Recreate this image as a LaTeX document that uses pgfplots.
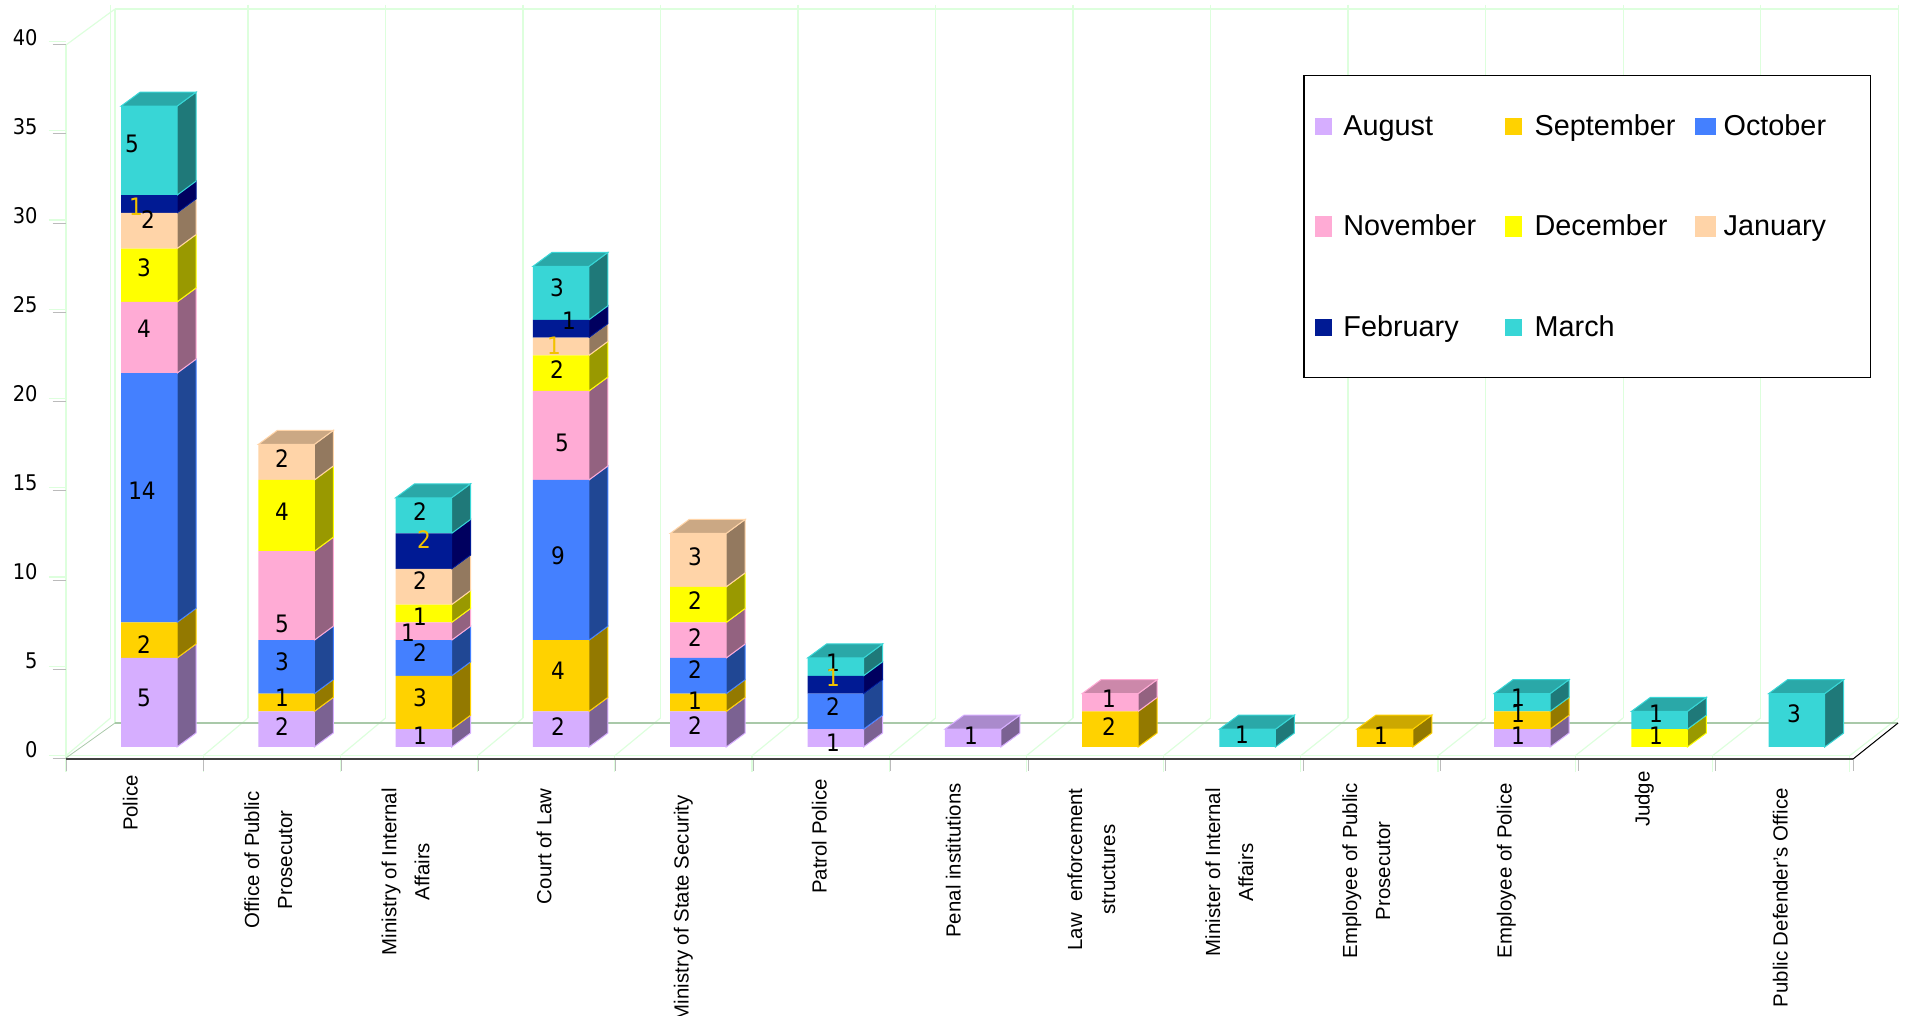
\documentclass[border=0pt]{standalone}
\usepackage{fontspec}
\usepackage{pgfplots}
\usepackage{pgfplotstable}
\pgfplotsset{compat=1.18}
\setmainfont{Liberation Sans}
\newfontfamily\condfont{DejaVu Sans Condensed}
\definecolor{aug}{HTML}{D6AEFF}
\definecolor{sep}{HTML}{FFD200}
\definecolor{oct}{HTML}{4480FF}
\definecolor{nov}{HTML}{FFABD5}
\definecolor{dec}{HTML}{FFFF00}
\definecolor{jan}{HTML}{FFD4A8}
\definecolor{feb}{HTML}{001A94}
\definecolor{mar}{HTML}{38D6D6}
\definecolor{augS}{HTML}{7B6292}
\definecolor{sepS}{HTML}{937900}
\definecolor{octS}{HTML}{204794}
\definecolor{novS}{HTML}{936280}
\definecolor{decS}{HTML}{999900}
\definecolor{janS}{HTML}{93795F}
\definecolor{febS}{HTML}{00005F}
\definecolor{marS}{HTML}{1F7979}
\definecolor{augT}{HTML}{AA8ACC}
\definecolor{sepT}{HTML}{CCA800}
\definecolor{octT}{HTML}{3666CC}
\definecolor{novT}{HTML}{CC88AA}
\definecolor{decT}{HTML}{CCCC00}
\definecolor{janT}{HTML}{CBA884}
\definecolor{febT}{HTML}{001476}
\definecolor{marT}{HTML}{2AA8A8}
\definecolor{gridg}{HTML}{DDFFDD}
\definecolor{floorg}{HTML}{A9C9A9}
\definecolor{tickg}{HTML}{BBBBBB}
\definecolor{goldlab}{HTML}{F2C200}
\pgfplotstableread{
Cat Aug Sep Oct Nov Dec Jan Feb Mar
0 5 2 14 4 3 2 1 5
1 2 1 3 5 4 2 0 0
2 1 3 2 1 1 2 2 2
3 2 4 9 5 2 1 1 3
4 2 1 2 2 2 3 0 0
5 1 0 2 0 0 0 1 1
6 1 0 0 0 0 0 0 0
7 0 2 0 1 0 0 0 0
8 0 0 0 0 0 0 0 1
9 0 1 0 0 0 0 0 0
10 1 1 0 0 0 0 0 1
11 0 0 0 0 1 0 0 1
12 0 0 0 0 0 0 0 3
}\datatab
% x: px -> category index, y: px -> value; 1 px = 0.5 pt
\newcommand\pxline[5]{\draw[#5] (axis cs:{(#1-149)/137.3},{(747-(#2))/17.8}) -- (axis cs:{(#3-149)/137.3},{(747-(#4))/17.8});}
\newcommand\lab[4][black]{\node[inner sep=0pt,font=\condfont\fontsize{12}{12}\selectfont,text=#1] at (axis cs:{(#2-149)/137.3},{(747-#3)/17.8}) {#4};}
\newcommand\tl[2]{\begin{tabular}{@{}c@{}}#2\end{tabular}\hspace*{#1pt}}
\pgfplotsset{swatch/.style 2 args={legend image code/.code={\fill[##1] (0pt,-#2pt) rectangle (#1pt,#2pt);}}}
\pgfplotsset{common/.style={
  scale only axis,width=893.5pt,height=356pt,
  xmin=-0.6045,xmax=12.41,ymin=0,ymax=40,clip=false}}
\begin{document}
\begin{tikzpicture}
\begin{axis}[common,hide axis]
% walls and floor
\pxline{115}{9}{1898}{9}{gridg,line width=.6pt}
\pxline{66}{45}{66}{759}{gridg,line width=.6pt}
\pxline{66}{45}{115}{9}{gridg,line width=.6pt}
\pxline{110.5}{5}{110.5}{718}{gridg,line width=.6pt}
\pxline{115}{9}{115}{723}{gridg,line width=.6pt}
\pgfplotsinvokeforeach{0,...,12}{
  \pxline{248+137.5*#1}{5}{248+137.5*#1}{718}{gridg,line width=.6pt}
}
\pxline{66}{755.7}{1850}{755.7}{gridg,line width=.6pt}
\pgfplotsinvokeforeach{0,...,13}{
  \pxline{66+137.2*#1}{755.7}{110.5+137.5*#1}{718}{gridg,line width=.6pt}
  \pxline{66+137.2*#1}{755.7}{66+137.2*#1}{771.7}{gridg,line width=.6pt}
  \pxline{66+137.46*#1}{759}{66+137.46*#1}{771}{tickg,line width=.4pt}
}
\pgfplotsinvokeforeach{0,5,...,40}{
  \pxline{49}{755.5-17.85*#1}{66}{755.5-17.85*#1}{gridg,line width=.6pt}
  \pxline{52.7}{758.5-17.85*#1}{66}{758.5-17.85*#1}{tickg,line width=.4pt}
}
\pxline{115}{723}{1898}{723}{floorg,line width=.7pt}
\pxline{66}{758}{115}{723}{floorg,line width=.4pt}
\pxline{66}{759}{1853}{759}{black!75,line width=.6pt}
\pxline{1853}{759}{1898}{723}{black,line width=.5pt}
% side and top faces of the bars, from the table
\pgfmathsetmacro\hw{28/137.3}
\pgfmathsetmacro\dxr{19/137.3}
\pgfmathsetmacro\dxl{19/137.3}
\pgfmathsetmacro\dy{14/17.8}
\foreach \r in {0,...,12}{
  \gdef\base{0}
  \foreach \c/\col in {Aug/aug,Sep/sep,Oct/oct,Nov/nov,Dec/dec,Jan/jan,Feb/feb,Mar/mar}{
    \pgfplotstablegetelem{\r}{\c}\of{\datatab}
    \let\v\pgfplotsretval
    \ifdim\v pt>0pt
      \pgfmathsetmacro\xa{\r+\hw}
      \pgfmathsetmacro\xb{\r+\hw+\dxr}
      \pgfmathsetmacro\ya{\base}
      \pgfmathsetmacro\yb{\base+\v}
      \pgfmathsetmacro\yc{\base+\dy}
      \pgfmathsetmacro\yd{\base+\v+\dy}
      \edef\tmp{\noexpand\addplot[fill=\col S,draw=\col,line width=.5pt] coordinates {(\xa,\ya)(\xb,\yc)(\xb,\yd)(\xa,\yb)} --cycle;}\tmp
      \xdef\base{\yb}
      \xdef\lastcol{\col}
    \fi
  }
  \pgfmathsetmacro\xl{\r-\hw}
  \pgfmathsetmacro\xa{\r+\hw}
  \pgfmathsetmacro\xb{\r+\hw+\dxr}
  \pgfmathsetmacro\xc{\r-\hw+\dxl}
  \pgfmathsetmacro\yd{\base+\dy}
  \edef\tmp{\noexpand\addplot[fill=\lastcol T,draw=\lastcol,line width=.5pt] coordinates {(\xl,\base)(\xa,\base)(\xb,\yd)(\xc,\yd)} --cycle;}\tmp
}
\end{axis}
\begin{axis}[common,
  ybar stacked,bar width=28pt,
  axis line style={draw=none},major tick length=0pt,tick style={draw=none},
  ytick={0,5,...,40},
  /pgf/number format/assume math mode=true,
  yticklabel style={font=\condfont\fontsize{10.8}{12}\selectfont,anchor=east,inner sep=0pt,xshift=-14pt,yshift=-1.5pt},
  xtick={-0.1311,0.8740,1.8734,2.8820,3.8821,4.8871,5.8631,6.8682,7.8733,8.8711,9.8762,10.8812,11.8864},
  xticklabels={
    {\tl{2}{Police}},
    {\tl{10}{Office of Public\\Prosecutor}},
    {\tl{8.5}{Ministry of Internal\\Affairs}},
    {\tl{8.5}{Court of Law}},
    {\tl{12}{Ministry of State Security}},
    {\tl{4}{Patrol Police}},
    {\tl{6}{Penal institutions}},
    {\tl{8.5}{Law\ \ enforcement\\structures}},
    {\tl{8.5}{Minister of Internal\\Affairs}},
    {\tl{6}{Employee of Public\\Prosecutor}},
    {\tl{6}{Employee of Police}},
    {\tl{0}{Judge}},
    {\tl{8.5}{Public Defender's Office}}},
  xticklabel style={font=\fontsize{10.2}{16.5}\selectfont,yshift=-12pt,rotate=90,anchor=east,inner sep=0pt},
  legend columns=3,
  legend cell align=left,
  legend style={at={(0.6924,0.9438)},anchor=north west,draw=black,fill=white,line width=.6pt,
    font=\fontsize{14.4}{16}\selectfont,inner xsep=5.5pt,inner ysep=19pt,
    /tikz/row sep=38.2pt,
    nodes={inner sep=0pt},
    /tikz/column 1/.style={column sep=5.85pt},
    /tikz/column 2/.style={column sep=14.5pt},
    /tikz/column 3/.style={column sep=6.3pt},
    /tikz/column 4/.style={column sep=9.65pt},
    /tikz/column 5/.style={column sep=3.9pt}},
]
\addplot[fill=aug,draw=none,swatch={8.4}{4.25}] table[x=Cat,y=Aug]{\datatab};\addlegendentry{\rule[-3pt]{0pt}{14pt}August}
\addplot[fill=sep,draw=none,swatch={8.4}{4.25}] table[x=Cat,y=Sep]{\datatab};\addlegendentry{\rule[-3pt]{0pt}{14pt}September}
\addplot[fill=oct,draw=none,swatch={10.5}{4.25}] table[x=Cat,y=Oct]{\datatab};\addlegendentry{\rule[-3pt]{0pt}{14pt}October\hspace*{16.5pt}}
\addplot[fill=nov,draw=none,swatch={8.4}{5.25}] table[x=Cat,y=Nov]{\datatab};\addlegendentry{November}
\addplot[fill=dec,draw=none,swatch={8.4}{5.25}] table[x=Cat,y=Dec]{\datatab};\addlegendentry{December}
\addplot[fill=jan,draw=none,swatch={10.5}{5.25}] table[x=Cat,y=Jan]{\datatab};\addlegendentry{January}
\addplot[fill=feb,draw=none,swatch={8.4}{4.25}] table[x=Cat,y=Feb]{\datatab};\addlegendentry{February}
\addplot[fill=mar,draw=none,swatch={8.4}{4.25}] table[x=Cat,y=Mar]{\datatab};\addlegendentry{March}
\end{axis}
\begin{axis}[common,hide axis]
% data labels: positions as in the reference
\lab{132}{144}{5}
\lab{148}{220}{2}
\lab[goldlab]{136}{207}{1}
\lab{144}{268}{3}
\lab{144}{329}{4}
\lab{142}{491}{14}
\lab{144}{645}{2}
\lab{144}{698}{5}
\lab{282}{459}{2}
\lab{282}{512}{4}
\lab{282}{624}{5}
\lab{282}{662}{3}
\lab{282}{698}{1}
\lab{282}{727}{2}
\lab{420}{512}{2}
\lab[goldlab]{424}{540}{2}
\lab{420}{581}{2}
\lab{420}{617}{1}
\lab{408}{633}{1}
\lab{420}{653}{2}
\lab{420}{698}{3}
\lab{420}{736}{1}
\lab{557}{288}{3}
\lab{569}{321}{1}
\lab[goldlab]{554}{346}{1}
\lab{557}{370}{2}
\lab{562}{443}{5}
\lab{558}{556}{9}
\lab{558}{671}{4}
\lab{558}{727}{2}
\lab{695}{557}{3}
\lab{695}{601}{2}
\lab{695}{638}{2}
\lab{695}{670}{2}
\lab{695}{701}{1}
\lab{695}{726}{2}
\lab{833}{663}{1}
\lab[goldlab]{833}{678}{1}
\lab{833}{707}{2}
\lab{833}{743}{1}
\lab{971}{736}{1}
\lab{1109}{699}{1}
\lab{1109}{727}{2}
\lab{1242}{735}{1}
\lab{1381}{736}{1}
\lab{1518}{698}{1}
\lab{1518}{714}{1}
\lab{1518}{736}{1}
\lab{1656}{714}{1}
\lab{1656}{736}{1}
\lab{1794}{714}{3}
\end{axis}
\pgfresetboundingbox
\path[use as bounding box] (-33pt,-134.5pt) rectangle (921pt,373.5pt);
\end{tikzpicture}
\end{document}
